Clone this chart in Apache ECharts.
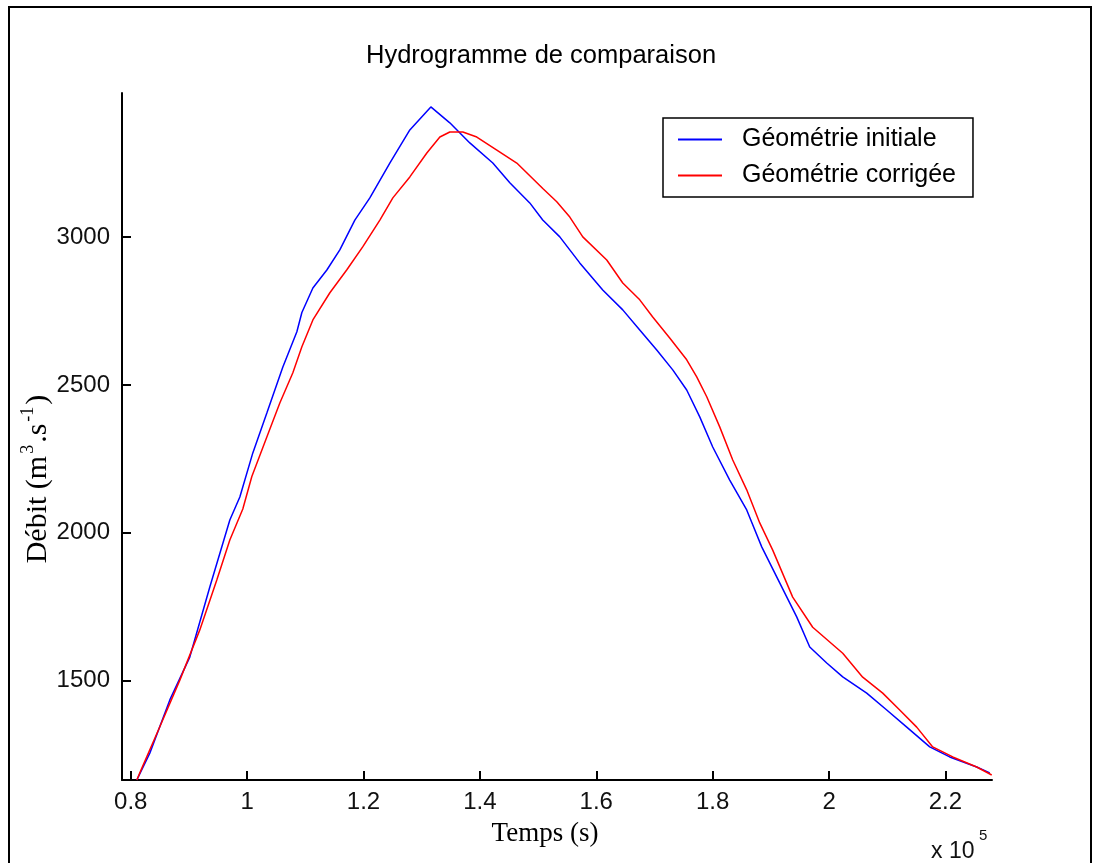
<!DOCTYPE html>
<html>
<head>
<meta charset="utf-8">
<script src="https://cdn.jsdelivr.net/npm/echarts@6/dist/echarts.min.js"></script>
<style>html,body{margin:0;padding:0;background:#fff}#c{width:1099px;height:863px}</style>
</head>
<body>
<div id="c"></div>
<script>
// x in units of 10^5 s, y in m3/s
const initialX = [0.8105,0.8328,0.8672,0.9015,0.9359,0.9703,0.9875,1.0098,1.0339,1.0614,1.0855,1.0941,1.1130,1.1370,1.1593,1.1851,1.2109,1.2452,1.2796,1.3157,1.3483,1.3827,1.4222,1.4514,1.4857,1.5080,1.5373,1.5716,1.6111,1.6455,1.6747,1.7039,1.7314,1.7554,1.7778,1.8001,1.8293,1.8585,1.8843,1.9152,1.9444,1.9668,1.9960,2.0235,2.0647,2.0991,2.1335,2.1730,2.2073,2.2537,2.2761];
const initialY = [1163,1254,1434,1579,1816,2043,2121,2270,2405,2561,2680,2745,2828,2889,2957,3058,3133,3251,3363,3441,3387,3319,3251,3184,3116,3058,3001,2913,2821,2754,2686,2618,2551,2483,2392,2290,2178,2077,1952,1830,1715,1613,1559,1512,1457,1400,1342,1275,1241,1207,1187];
const correctedX = [0.8105,0.8156,0.8500,0.8844,0.9187,0.9479,0.9703,0.9926,1.0081,1.0339,1.0562,1.0786,1.0941,1.1130,1.1422,1.1714,1.1989,1.2281,1.2504,1.2796,1.3088,1.3312,1.3483,1.3707,1.3947,1.4291,1.4634,1.5081,1.5321,1.5545,1.5768,1.6180,1.6455,1.6747,1.6970,1.7262,1.7554,1.7726,1.7898,1.8121,1.8345,1.8585,1.8809,1.9032,1.9375,1.9719,2.0235,2.0578,2.0922,2.1214,2.1506,2.1781,2.2125,2.2537,2.2795];
const correctedY = [1163,1187,1343,1501,1671,1840,1975,2080,2190,2324,2439,2541,2629,2720,2812,2890,2968,3058,3133,3204,3285,3339,3356,3356,3339,3295,3251,3165,3120,3068,3001,2923,2845,2788,2730,2659,2585,2527,2460,2358,2246,2145,2033,1941,1782,1680,1592,1511,1457,1400,1342,1275,1241,1207,1180];
const xTicks = [0.8,1,1.2,1.4,1.6,1.8,2,2.2];
const yTicks = [1500,2000,2500,3000];
const seriesNames = ['Géométrie initiale','Géométrie corrigée'];

const zip = (xs, ys) => xs.map((x, i) => [x, ys[i]]);
const chart = echarts.init(document.getElementById('c'), null, {renderer: 'canvas'});
const SANS = 'Liberation Sans, Arial, sans-serif';
const SERIF = 'Liberation Serif, DejaVu Serif, serif';
const labelFont = {fontFamily: SANS, fontSize: 24, color: '#111'};
chart.setOption({
  animation: false,
  backgroundColor: '#fff',
  title: {
    text: 'Hydrogramme de comparaison',
    left: 361, top: 38,
    textStyle: {fontFamily: SANS, fontSize: 25.5, fontWeight: 'normal', color: '#000'}
  },
  grid: {left: 122, top: 93, right: 107, bottom: 83, containLabel: false},
  legend: {
    orient: 'vertical', left: 663, top: 118,
    icon: 'rect',
    itemWidth: 44, itemHeight: 2, itemGap: 11,
    padding: [9, 17, 9, 15],
    borderColor: '#000', borderWidth: 1.5, backgroundColor: '#fff',
    textStyle: {fontFamily: SANS, fontSize: 25, color: '#000', padding: [0, 0, 0, 15]},
    data: seriesNames
  },
  xAxis: {
    type: 'value', min: 0.785, max: 2.28,
    axisLine: {show: true, onZero: false, lineStyle: {color: '#000', width: 2}},
    axisTick: {show: true, inside: true, length: 9, customValues: xTicks, lineStyle: {color: '#000', width: 2}},
    axisLabel: Object.assign({margin: 10, customValues: xTicks, formatter: v => String(+(+v).toFixed(1))}, labelFont),
    splitLine: {show: false}
  },
  yAxis: {
    type: 'value', min: 1163, max: 3488,
    axisLine: {show: true, onZero: false, lineStyle: {color: '#000', width: 2}},
    axisTick: {show: true, inside: true, length: 9, customValues: yTicks, lineStyle: {color: '#000', width: 2}},
    axisLabel: Object.assign({margin: 12, customValues: yTicks, formatter: v => String(Math.round(v))}, labelFont),
    splitLine: {show: false}
  },
  series: [
    {name: seriesNames[0], type: 'line', symbol: 'none', data: zip(initialX, initialY),
     lineStyle: {color: '#0000ff', width: 1.5}, itemStyle: {color: '#0000ff'}},
    {name: seriesNames[1], type: 'line', symbol: 'none', data: zip(correctedX, correctedY),
     lineStyle: {color: '#ff0000', width: 1.5}, itemStyle: {color: '#ff0000'}}
  ],
  graphic: [
    {type: 'rect', shape: {x: 9, y: 7, width: 1082, height: 880}, style: {fill: 'none', stroke: '#000', lineWidth: 2}, silent: true},
    {type: 'text', x: 545, y: 834, style: {text: 'Temps (s)', fontFamily: SERIF, fontSize: 27, fill: '#000', textAlign: 'center', textVerticalAlign: 'middle'}},
    {type: 'text', x: 36, y: 479, rotation: Math.PI / 2, style: {
      text: '{a|Débit (m}{s|3}{a|.s}{s|-1}{a|)}',
      textAlign: 'center', textVerticalAlign: 'middle',
      rich: {
        a: {fontFamily: SERIF, fontSize: 30, fill: '#000', lineHeight: 34, verticalAlign: 'bottom'},
        s: {fontFamily: SERIF, fontSize: 18, fill: '#000', lineHeight: 34, verticalAlign: 'top', padding: [0, 2, 0, 2]}
      }}},
    {type: 'text', x: 931, y: 852, style: {text: 'x 10', fontFamily: SANS, fontSize: 23, fill: '#111', textVerticalAlign: 'middle'}},
    {type: 'text', x: 979, y: 836, style: {text: '5', fontFamily: SANS, fontSize: 15, fill: '#111', textVerticalAlign: 'middle'}}
  ]
});
</script>
</body>
</html>
